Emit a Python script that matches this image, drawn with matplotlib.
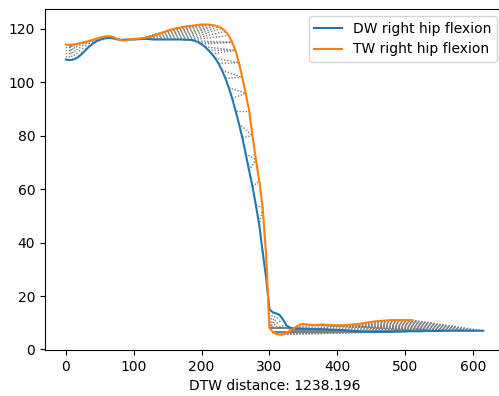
import numpy as np
import matplotlib.pyplot as plt

# sampled every 5 frames
step = 5

dw_hip = [
    108.5, 108.3, 108.4, 108.9, 109.8, 111.0, 112.3, 113.5, 114.5, 115.3,
    115.9, 116.3, 116.5, 116.6, 116.4, 116.1, 115.9, 115.9, 116.0, 116.0,
    116.0, 116.1, 116.2, 116.2, 116.2, 116.1, 116.0, 116.0, 116.0, 116.0,
    116.0, 116.0, 116.0, 116.0, 116.0, 115.9, 115.9, 115.8, 115.5, 115.0,
    114.2, 113.3, 112.0, 110.6, 109.0, 107.0, 104.5, 101.5, 98.0, 94.0,
    89.4, 84.5, 79.3, 73.2, 67.0, 61.0, 54.0, 46.5, 36.5, 27.0,
    15.0, 13.9, 13.5, 12.9, 11.2, 9.0, 8.2, 7.9, 7.8, 7.8,
    7.8, 7.8, 7.7, 7.7, 7.6, 7.6, 7.5, 7.5, 7.4, 7.4,
    7.3, 7.3, 7.2, 7.1, 7.0, 6.9, 6.8, 6.7, 6.7, 6.6,
    6.6, 6.6, 6.6, 6.6, 6.6, 6.6, 6.6, 6.7, 6.7, 6.7,
    6.7, 6.8, 6.8, 6.8, 6.8, 6.8, 6.9, 6.9, 6.9, 6.9,
    6.9, 7.0, 7.0, 7.0, 7.0, 7.0, 7.0, 7.0, 7.0, 7.0,
    7.0, 7.0, 7.0, 7.0,
]

tw_hip = [
    114.1, 114.0, 114.1, 114.3, 114.6, 114.9, 115.2, 115.5, 115.9, 116.3,
    116.7, 117.0, 117.2, 117.2, 116.9, 116.3, 115.8, 115.6, 115.7, 116.0,
    116.2, 116.3, 116.4, 116.6, 116.8, 117.1, 117.5, 117.9, 118.3, 118.8,
    119.3, 119.7, 120.0, 120.3, 120.5, 120.8, 121.0, 121.1, 121.3, 121.5,
    121.6, 121.6, 121.6, 121.4, 121.2, 120.8, 120.2, 119.0, 117.5, 115.0,
    111.9, 107.3, 101.8, 95.8, 89.4, 80.0, 71.0, 63.0, 53.0, 35.6,
    8.1, 6.5, 5.8, 5.6, 5.6, 6.2, 7.0, 7.8, 8.6, 9.3,
    9.5, 9.3, 9.2, 9.1, 9.2, 9.3, 9.3, 9.2, 9.1, 9.0,
    9.0, 9.0, 9.1, 9.2, 9.3, 9.4, 9.5, 9.7, 9.9, 10.1,
    10.3, 10.5, 10.6, 10.7, 10.8, 10.9, 11.0, 11.0, 11.0, 11.0,
    11.0, 11.0, 11.0,
]

labels = ["DW right hip flexion", "TW right hip flexion"]
dtw_text = "DTW distance: 1238.196"


def dtw_path(a, b):
    n, m = len(a), len(b)
    D = np.full((n + 1, m + 1), np.inf)
    D[0, 0] = 0.0
    for i in range(1, n + 1):
        for j in range(1, m + 1):
            c = abs(a[i - 1] - b[j - 1])
            D[i, j] = c + min(D[i - 1, j], D[i, j - 1], D[i - 1, j - 1])
    i, j = n, m
    path = [(i - 1, j - 1)]
    while i > 1 or j > 1:
        moves = [(D[i - 1, j - 1], i - 1, j - 1), (D[i - 1, j], i - 1, j), (D[i, j - 1], i, j - 1)]
        _, i, j = min(moves)
        path.append((i - 1, j - 1))
    return path[::-1]


x_dw = np.arange(len(dw_hip)) * step
x_tw = np.arange(len(tw_hip)) * step

fig = plt.figure(figsize=(4.99, 3.96), dpi=100)
ax = fig.add_axes([0.0902, 0.1162, 0.92, 0.861])

for i, j in dtw_path(np.array(dw_hip), np.array(tw_hip)):
    ax.plot([x_dw[i], x_tw[j]], [dw_hip[i], tw_hip[j]], color="gray",
            lw=1.0, linestyle=(0, (1, 1.2)), zorder=1)

ax.plot(x_dw, dw_hip, color="C0", label=labels[0], zorder=2)
ax.plot(x_tw, tw_hip, color="C1", label=labels[1], zorder=2)
ax.set_xlabel(dtw_text)
ax.legend(loc="upper right")

fig.savefig("out.png", dpi=100)
